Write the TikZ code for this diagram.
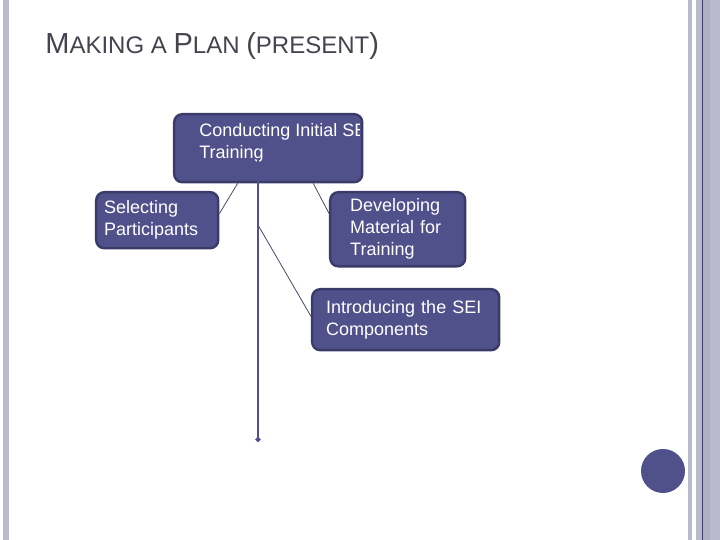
\documentclass[tikz,border=0pt]{standalone}
\usepackage{fontspec}
\setmainfont{Liberation Sans}
\usepackage{tikz}
\usetikzlibrary{positioning,arrows.meta}

\definecolor{planfill}{RGB}{80,81,138}
\definecolor{planedge}{RGB}{58,59,104}
\definecolor{titlegray}{RGB}{68,68,78}
\definecolor{stripe}{RGB}{186,186,204}
\definecolor{stripedark}{RGB}{176,176,196}
\newcommand{\capbig}[1]{{\fontsize{14.5}{17}\selectfont #1}}

\begin{document}
\begin{tikzpicture}[x=0.5pt,y=-0.5pt,
  planbox/.style={draw=planedge,fill=planfill,line width=1.2pt,rounded corners=4pt,
    text=white,font=\fontsize{9}{11}\selectfont,align=left,anchor=north west},
  boxtext/.style={text=white,font=\fontsize{9}{11}\selectfont,align=left,anchor=north west,inner sep=0pt},
  link/.style={draw=planedge!80!gray,line width=0.4pt},
  spine/.style={draw=planfill,line width=1pt}]
\useasboundingbox (0,0) rectangle (720,540);
% page frame
\fill[stripe] (3,0) rectangle (9,540);
\fill[stripe] (688,0) rectangle (692,540);
\fill[stripe] (696,0) rectangle (702,540);
\fill[stripedark] (703,0) rectangle (710,540);
\fill[stripe] (710,0) rectangle (720,540);
\draw[planedge,line width=0.6pt] (702.5,0) -- (702.5,540);
\fill[planfill] (663,471) circle (22);

\node[anchor=base west,inner sep=0pt,text=titlegray] (title) at (45,54)
  {\capbig{M}\fontsize{12}{14}\selectfont AKING A \capbig{P}LAN \capbig{(}PRESENT\capbig{)}};

% boxes
\node[planbox,minimum width=94pt,minimum height=34pt,inner sep=0pt] (init) at (173,113) {};
\begin{scope}
  \clip (173,113) rectangle (360,181);
  \node[boxtext] (inittext) at (199,123) {Conducting Initial SE\\Training};
\end{scope}
\node[planbox,minimum width=61pt,minimum height=28pt,text width=53pt,inner xsep=4pt] (sel) at (95,191) {Selecting\\Participants};
\node[planbox,minimum width=67.5pt,minimum height=37pt,text width=47.5pt,inner xsep=10pt] (dev) at (329,191) {Developing\\Material for\\Training};
\node[planbox,minimum width=93.5pt,minimum height=30.5pt,text width=79.5pt,inner xsep=7pt] (intro) at (311,288) {Introducing the SEI\\Components};

% connectors
\coordinate (spinetop) at (258,160);
\coordinate (branch) at (258,225);
\coordinate (spineend) at (258,442);
\draw[link] (init.229.5) -- (sel.6);
\draw[link] (init.322.7) -- (dev.167.5);
\draw[link] (branch) -- (intro.178);
\draw[spine,-{Circle[length=2.5pt]}] (spinetop) -- (spineend);
\end{tikzpicture}
\end{document}
